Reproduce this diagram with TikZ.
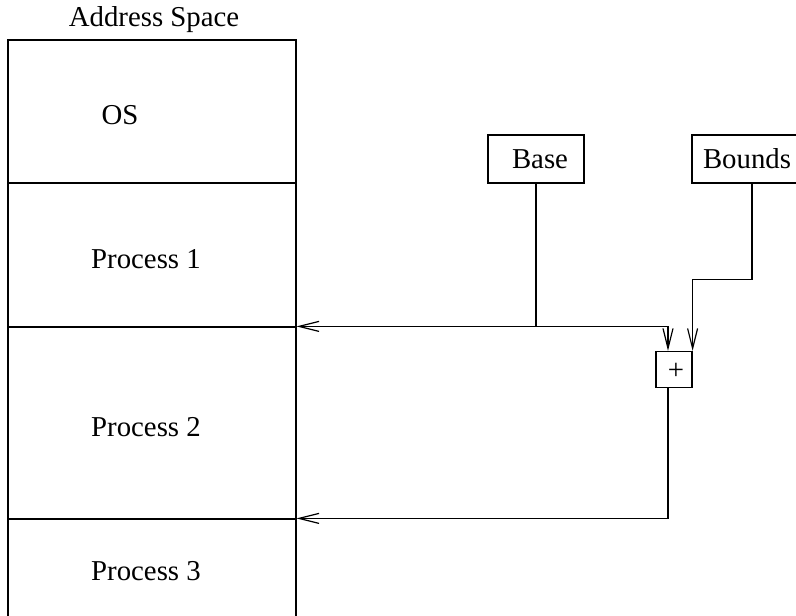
\documentclass[tikz,border=0pt]{standalone}
\usepackage{fontspec}
\setmainfont{Liberation Serif}
\usetikzlibrary{arrows.meta,positioning,calc,fit}

\begin{document}
\begin{tikzpicture}[
  x=0.5pt, y=-0.5pt,
  line width=0.6pt,
  >={Straight Barb[length=10pt,width=5pt]},
  every node/.style={font=\fontsize{14.4}{17}\selectfont},
  region/.style={draw, inner sep=0pt},
  reg/.style={draw, inner sep=0pt, minimum width=48pt, minimum height=24pt},
  lbl/.style={anchor=base, inner sep=0pt},
]
  \clip (0,0) rectangle (796,615);

  % Address space
  \node[lbl] (title) at (154,27) {Address Space};
  \node[region, fit={(8,40) (296,183)}] (os) {};
  \node[region, fit={(8,183) (296,327)}] (p1) {};
  \node[region, fit={(8,327) (296,519)}] (p2) {};
  \node[region, fit={(8,519) (296,640)}] (p3) {};
  \node[lbl] (ostext) at (120,124) {OS};
  \node[lbl] (p1text) at (146,268) {Process 1};
  \node[lbl] (p2text) at (146,436) {Process 2};
  \node[lbl] (p3text) at (146,580) {Process 3};

  % Registers and adder
  \node[reg] (base) at (536,159) {\hspace*{4pt}Base};
  \node[reg, minimum width=60pt] (bounds) at (752,159) {\hspace*{1pt}Bounds\hspace*{6pt}};
  \node[draw, inner sep=0pt, minimum size=18pt] (plus) at (674,369.5) {};
  \node[lbl] (plustext) at (676,379) {+};
  \coordinate (pin) at ($(plus.north)+(-6,0)$);

  \draw[->] (base.south) |- (p2.north east);
  \draw[->] (base.south |- p2.north) -| (pin);
  \draw[->] (bounds.south) -- ++(0,96) -| (plus.north east);
  \draw[->] (plus.south -| pin) |- (p3.north east);
\end{tikzpicture}
\end{document}
